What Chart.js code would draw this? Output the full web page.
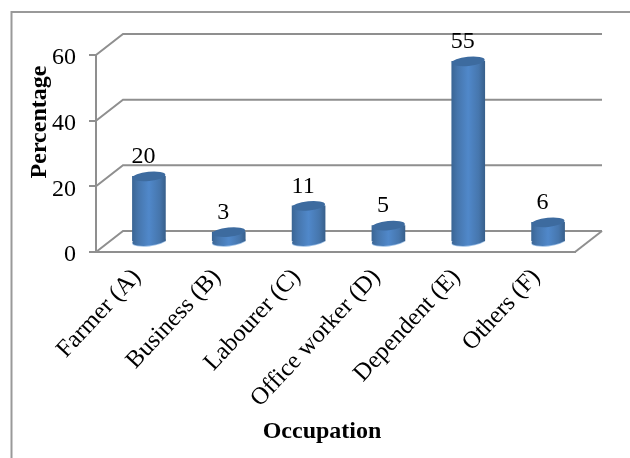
<!DOCTYPE html>
<html>
<head>
<meta charset="utf-8">
<style>
  html, body { margin: 0; padding: 0; background: #fff; }
  #wrap { width: 630px; height: 458px; }
</style>
<script src="https://cdn.jsdelivr.net/npm/chart.js@4/dist/chart.umd.min.js"></script>
</head>
<body>
<div id="wrap"><canvas id="chart" width="630" height="458"></canvas></div>
<script>
const categories = ['Farmer (A)', 'Business (B)', 'Labourer (C)', 'Office worker (D)', 'Dependent (E)', 'Others (F)'];
const percentages = [20, 3, 11, 5, 55, 6];
const yTicks = [0, 20, 40, 60];

const SERIF = '"Liberation Serif", "Times New Roman", serif';
const LINE = '#8f8f8f';
const DEPTH_X = 27, DEPTH_Y = 21;      // receding wall offset
const BAR_DX = 13, BAR_DY = 10;        // bars stand halfway into the floor
const BAR_W = 33, CAP_RY = 4.6, TILT = -0.1;

function sideGradient(ctx, cx) {
  const g = ctx.createLinearGradient(cx - BAR_W / 2, 0, cx + BAR_W / 2, 0);
  g.addColorStop(0, '#3b6695');
  g.addColorStop(0.18, '#4676ad');
  g.addColorStop(0.5, '#5088ca');
  g.addColorStop(0.82, '#4676ad');
  g.addColorStop(1, '#38608c');
  return g;
}

const frame = {
  id: 'frame',
  beforeDraw(chart) {
    const { ctx, chartArea: a, scales: { y } } = chart;
    ctx.save();
    ctx.strokeStyle = '#999999';
    ctx.lineWidth = 2;
    ctx.beginPath();
    ctx.moveTo(11.5, 458);
    ctx.lineTo(11.5, 12);
    ctx.lineTo(630, 12);
    ctx.stroke();

    // back wall grid with its receding segments on the left side
    ctx.strokeStyle = LINE;
    yTicks.forEach(v => {
      const py = y.getPixelForValue(v);
      ctx.beginPath();
      ctx.moveTo(a.left, py);
      ctx.lineTo(a.left + DEPTH_X, py - DEPTH_Y);
      ctx.lineTo(a.right + DEPTH_X, py - DEPTH_Y);
      ctx.stroke();
    });
    // right edge of the floor
    ctx.beginPath();
    ctx.moveTo(a.right, a.bottom);
    ctx.lineTo(a.right + DEPTH_X, a.bottom - DEPTH_Y);
    ctx.stroke();
    ctx.restore();
  }
};

const cylinders = {
  id: 'cylinders',
  beforeDatasetDraw(chart, args) {
    const { ctx } = chart;
    ctx.save();
    ctx.translate(BAR_DX, -BAR_DY);
    args.meta.data.forEach(el => {
      // rounded foot of each cylinder, with a light rim
      ctx.beginPath();
      ctx.ellipse(el.x, el.base + 0.8, BAR_W / 2 + 0.3, CAP_RY, TILT, 0, Math.PI * 2);
      ctx.fillStyle = '#9cc0e8';
      ctx.fill();
      ctx.beginPath();
      ctx.ellipse(el.x, el.base, BAR_W / 2, CAP_RY, TILT, 0, Math.PI * 2);
      ctx.fillStyle = sideGradient(ctx, el.x);
      ctx.fill();
    });
  },
  afterDatasetDraw(chart, args) {
    const { ctx } = chart;
    args.meta.data.forEach(el => {
      ctx.beginPath();
      ctx.ellipse(el.x, el.y, BAR_W / 2, CAP_RY, TILT, 0, Math.PI * 2);
      ctx.fillStyle = '#3d6b9f';
      ctx.fill();
    });
    ctx.restore();
  },
  afterDatasetsDraw(chart) {
    const { ctx } = chart;
    const meta = chart.getDatasetMeta(0);
    ctx.save();
    ctx.fillStyle = '#000';
    ctx.font = '24px ' + SERIF;
    ctx.textAlign = 'center';
    ctx.textBaseline = 'middle';
    meta.data.forEach((el, i) => {
      ctx.fillText(String(percentages[i]), el.x + BAR_DX - 5.5, el.y - BAR_DY - 19.5);
    });
    ctx.restore();
  }
};

// Axis captions sit off-centre from the plot, so they are placed here
const axisCaptions = {
  id: 'axisCaptions',
  afterDraw(chart) {
    const { ctx } = chart;
    ctx.save();
    ctx.fillStyle = '#000';
    ctx.font = 'bold 24px ' + SERIF;
    ctx.textAlign = 'center';
    ctx.textBaseline = 'middle';
    ctx.fillText('Occupation', 322, 432);
    ctx.translate(40, 122);
    ctx.rotate(-Math.PI / 2);
    ctx.fillText('Percentage', 0, 0);
    ctx.restore();
  }
};

function barFill(c) {
  const px = c.dataIndex === undefined ? NaN : c.chart.scales.x.getPixelForValue(c.dataIndex);
  return Number.isFinite(px) ? sideGradient(c.chart.ctx, px) : '#5088ca';
}

new Chart(document.getElementById('chart'), {
  type: 'bar',
  data: {
    labels: categories,
    datasets: [{
      data: percentages,
      barThickness: BAR_W,
      borderWidth: 0,
      clip: false,
      backgroundColor: barFill
    }]
  },
  options: {
    responsive: false,
    animation: false,
    layout: { padding: { left: 0, right: 55, top: 55, bottom: 0 } },
    plugins: { legend: { display: false }, tooltip: { enabled: false } },
    scales: {
      x: {
        afterFit: s => { s.height = 206; },
        grid: { display: false, drawTicks: false },
        border: { color: LINE, width: 2 },
        ticks: {
          color: '#000',
          font: { family: SERIF, size: 24.5 },
          minRotation: 47,
          maxRotation: 47,
          padding: 11,
          labelOffset: 1,
          autoSkip: false
        }
      },
      y: {
        min: 0,
        max: 60,
        afterFit: s => { s.width = 96; },
        afterBuildTicks: s => { s.ticks = yTicks.map(v => ({ value: v })); },
        grid: { drawOnChartArea: false, color: LINE, lineWidth: 2, tickLength: 7 },
        border: { color: LINE, width: 2 },
        ticks: {
          color: '#000',
          font: { family: SERIF, size: 24 },
          padding: 13,
          labelOffset: 3
        }
      }
    }
  },
  plugins: [frame, cylinders, axisCaptions]
});
</script>
</body>
</html>
